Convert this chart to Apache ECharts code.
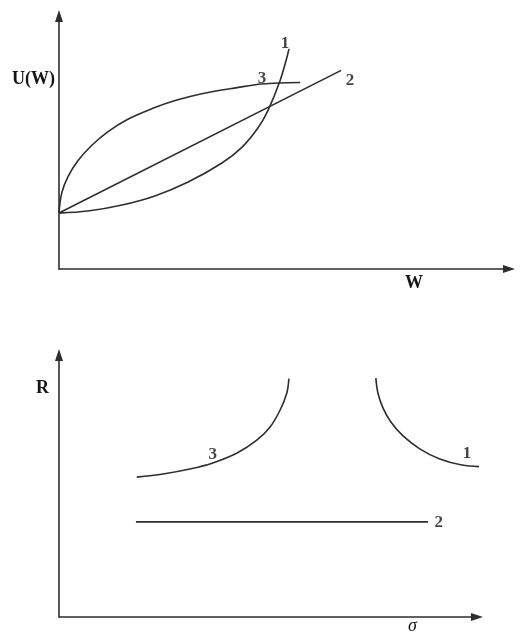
<!DOCTYPE html>
<html>
<head>
<meta charset="utf-8">
<title>U(W) and R–σ curves</title>
<script src="https://cdn.jsdelivr.net/npm/echarts@6/dist/echarts.min.js"></script>
<style>
  html, body { margin: 0; padding: 0; background: #fff; }
  #chart { width: 526px; height: 635px; }
</style>
</head>
<body>
<div id="chart"></div>
<script>
// Upper panel: utility of wealth U(W)
// curve 1 – convex (risk-loving), line 2 – linear (risk-neutral), curve 3 – concave (risk-averse)
const utilW1 = [0, 0.64, 1.40, 2.13, 2.87, 3.62, 4.07, 4.42, 4.64, 4.91, 5.07, 5.11];
const utilU1 = [2.21, 2.29, 2.53, 2.89, 3.44, 4.19, 4.82, 5.57, 6.25, 7.43, 8.40, 8.70];
const utilW2 = [0, 6.27];
const utilU2 = [2.21, 7.85];
const utilW3 = [0, 0.06, 0.20, 0.42, 0.73, 1.09, 1.53, 2.07, 2.58, 3.20, 3.96, 4.51, 5.36];
const utilU3 = [2.21, 3.00, 3.65, 4.28, 4.89, 5.43, 5.92, 6.34, 6.66, 6.94, 7.17, 7.31, 7.37];

// Lower panel: indifference curves in (σ, R)
const riskS1 = [7.58, 7.63, 7.75, 7.94, 8.23, 8.64, 9.11, 9.64, 10.22];
const riskR1 = [9.12, 8.55, 7.98, 7.44, 6.91, 6.41, 6.03, 5.80, 5.73];
const riskS2 = [1.84, 8.83];
const riskR2 = [3.63, 3.63];
const riskS3 = [1.86, 2.49, 3.13, 3.68, 4.26, 4.74, 5.05, 5.29, 5.45, 5.50];
const riskR3 = [5.34, 5.46, 5.65, 5.88, 6.26, 6.76, 7.25, 7.90, 8.55, 9.10];

const INK = '#2e2e2e';
const TEXT_INK = '#151515';
const SERIF = '"Liberation Serif", "DejaVu Serif", serif';
const labelText = { color: TEXT_INK, fontFamily: SERIF, fontWeight: 'bold', fontSize: 17 };

function pairs(xs, ys) {
  return xs.map((x, i) => [x, ys[i]]);
}

function curve(xi, yi, xs, ys) {
  return {
    type: 'line', xAxisIndex: xi, yAxisIndex: yi,
    data: pairs(xs, ys), showSymbol: false, symbol: 'none',
    smooth: 0.35, clip: false,
    lineStyle: { color: INK, width: 1.6 },
    silent: true
  };
}

// Curve number placed at one of the curve's own points
function tag(xi, yi, xs, ys, idx, text, labelOpt) {
  return {
    type: 'scatter', xAxisIndex: xi, yAxisIndex: yi, silent: true,
    symbol: 'circle', symbolSize: 1, itemStyle: { color: 'rgba(0,0,0,0)' },
    data: [[xs[idx], ys[idx]]], clip: false,
    label: Object.assign({ show: true, formatter: text }, labelText, labelOpt)
  };
}

function axis(gridIndex) {
  return {
    type: 'value', gridIndex, min: 0, max: 10,
    axisLine: {
      show: true, onZero: false,
      symbol: ['none', 'triangle'], symbolSize: [8, 12],
      lineStyle: { color: INK, width: 1.6 }
    },
    axisTick: { show: false }, axisLabel: { show: false }, splitLine: { show: false }
  };
}

const chart = echarts.init(document.getElementById('chart'), null, { renderer: 'canvas' });

chart.setOption({
  backgroundColor: '#ffffff',
  animation: false,
  grid: [
    { left: 59, right: 17, top: 16, bottom: 366 },
    { left: 59, right: 49, top: 355, bottom: 18 }
  ],
  xAxis: [axis(0), axis(1)],
  yAxis: [axis(0), axis(1)],
  series: [
    curve(0, 0, utilW1, utilU1),
    curve(0, 0, utilW2, utilU2),
    curve(0, 0, utilW3, utilU3),
    curve(1, 1, riskS1, riskR1),
    curve(1, 1, riskS2, riskR2),
    curve(1, 1, riskS3, riskR3),
    tag(0, 0, utilW1, utilU1, utilW1.length - 1, '1', { position: 'top', distance: 0, offset: [-4, 4] }),
    tag(0, 0, utilW2, utilU2, utilW2.length - 1, '2', { position: 'right', distance: 4, offset: [0, 10] }),
    tag(0, 0, utilW3, utilU3, 11, '3', { position: 'top', distance: 0, offset: [0, 4] }),
    tag(1, 1, riskS1, riskR1, 7, '1', { position: 'top', distance: 2, offset: [5, 0] }),
    tag(1, 1, riskS2, riskR2, riskS2.length - 1, '2', { position: 'right', distance: 6, offset: [0, 1] }),
    tag(1, 1, riskS3, riskR3, 3, '3', { position: 'top', distance: 0, offset: [0, 1] })
  ],
  graphic: [
    { type: 'text', left: 12, top: 70,
      style: { text: 'U(W)', fill: TEXT_INK, font: 'bold 18px ' + SERIF } },
    { type: 'text', left: 405, top: 274,
      style: { text: 'W', fill: TEXT_INK, font: 'bold 18px ' + SERIF } },
    { type: 'text', left: 36, top: 379,
      style: { text: 'R', fill: TEXT_INK, font: 'bold 18px ' + SERIF } },
    { type: 'text', left: 408, top: 617,
      style: { text: 'σ', fill: TEXT_INK, font: 'italic 18px ' + SERIF } }
  ]
});
</script>
</body>
</html>
